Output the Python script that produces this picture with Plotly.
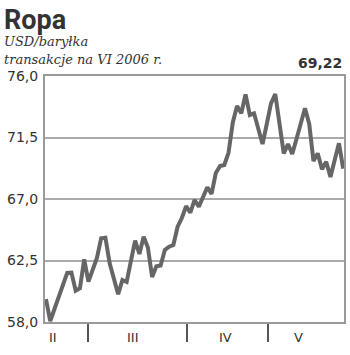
import plotly.graph_objects as go

# Daily prices (USD/bbl), June 2006 futures, trading days mid-Feb .. late May
prices = [59.68, 58.07, 58.95, 59.83, 60.71, 61.59, 61.61, 60.29, 60.47, 62.59,
          60.95, 61.80, 62.68, 64.12, 64.17, 62.30, 61.15, 60.03, 61.07, 60.93,
          62.46, 63.96, 62.98, 64.24, 63.45, 61.29, 62.08, 62.13, 63.27, 63.51,
          63.63, 64.97, 65.61, 66.47, 66.01, 66.93, 66.44, 67.15, 67.86, 67.37,
          68.90, 69.41, 69.49, 70.40, 72.60, 73.80, 73.27, 74.65, 73.15, 73.27,
          72.16, 71.02, 72.49, 74.00, 74.68, 72.49, 70.34, 71.02, 70.29, 71.39,
          72.52, 73.64, 72.49, 69.78, 70.34, 69.17, 69.73, 68.61, 69.85, 71.08,
          69.22]
days = list(range(len(prices)))

month_bounds = [9.84, 33.1, 52.2]
month_labels = ["II", "III", "IV", "V"]
month_label_pos = [1.65, 20.6, 42.2, 59.5]

y_ticks = [58.0, 62.5, 67.0, 71.5, 76.0]
y_ticktext = ["58,0", "62,5", "67,0", "71,5", "76,0"]
last_value_text = "69,22"

fig = go.Figure()
fig.add_trace(go.Scatter(x=days, y=prices, mode="lines",
                         line=dict(color="#666666", width=4), hoverinfo="skip"))

axis_col = "#9a9a9a"
fig.update_layout(
    width=350, height=355,
    margin=dict(l=45, r=4, t=76, b=33),
    paper_bgcolor="white", plot_bgcolor="white",
    showlegend=False,
    xaxis=dict(range=[-0.23, 70.19], tickvals=month_bounds, showticklabels=False,
               ticks="outside", ticklen=18, tickwidth=2, tickcolor="#555555",
               showgrid=False, zeroline=False, showline=True, linecolor=axis_col,
               linewidth=2, mirror=True),
    yaxis=dict(range=[58, 76], tickvals=y_ticks, ticktext=y_ticktext,
               showgrid=True, gridcolor="#aaaaaa", gridwidth=1.5, zeroline=False,
               showline=True, linecolor=axis_col, linewidth=2, mirror=True,
               ticks="", ticklabelstandoff=2,
               tickfont=dict(family="DejaVu Sans", size=14, color="#333333")),
)

fig.add_annotation(text="<b>Ropa</b>", xref="paper", yref="paper", x=-43/301, y=1 + 74/246,
                   xanchor="left", yanchor="top", showarrow=False,
                   font=dict(family="Roboto", size=27, color="#333333"))
fig.add_annotation(text="<i>USD/baryłka</i>", xref="paper", yref="paper", x=-43/301, y=1 + 44/246,
                   xanchor="left", yanchor="top", showarrow=False,
                   font=dict(family="DejaVu Serif", size=13, color="#333333"))
fig.add_annotation(text="<i>transakcje na VI 2006 r.</i>", xref="paper", yref="paper", x=-43/301, y=1 + 26/246,
                   xanchor="left", yanchor="top", showarrow=False,
                   font=dict(family="DejaVu Serif", size=13, color="#333333"))
fig.add_annotation(text="<b>" + last_value_text + "</b>", xref="paper", yref="paper", x=1, y=1,
                   xanchor="right", yanchor="bottom", yshift=3, showarrow=False,
                   font=dict(family="DejaVu Sans", size=14, color="#333333"))
for lab, pos in zip(month_labels, month_label_pos):
    fig.add_annotation(text=lab, x=pos, xref="x", y=0, yref="paper",
                       xanchor="center", yanchor="top", yshift=-6, showarrow=False,
                       font=dict(family="DejaVu Sans", size=13, color="#333333"))

fig.write_html("out.html")
